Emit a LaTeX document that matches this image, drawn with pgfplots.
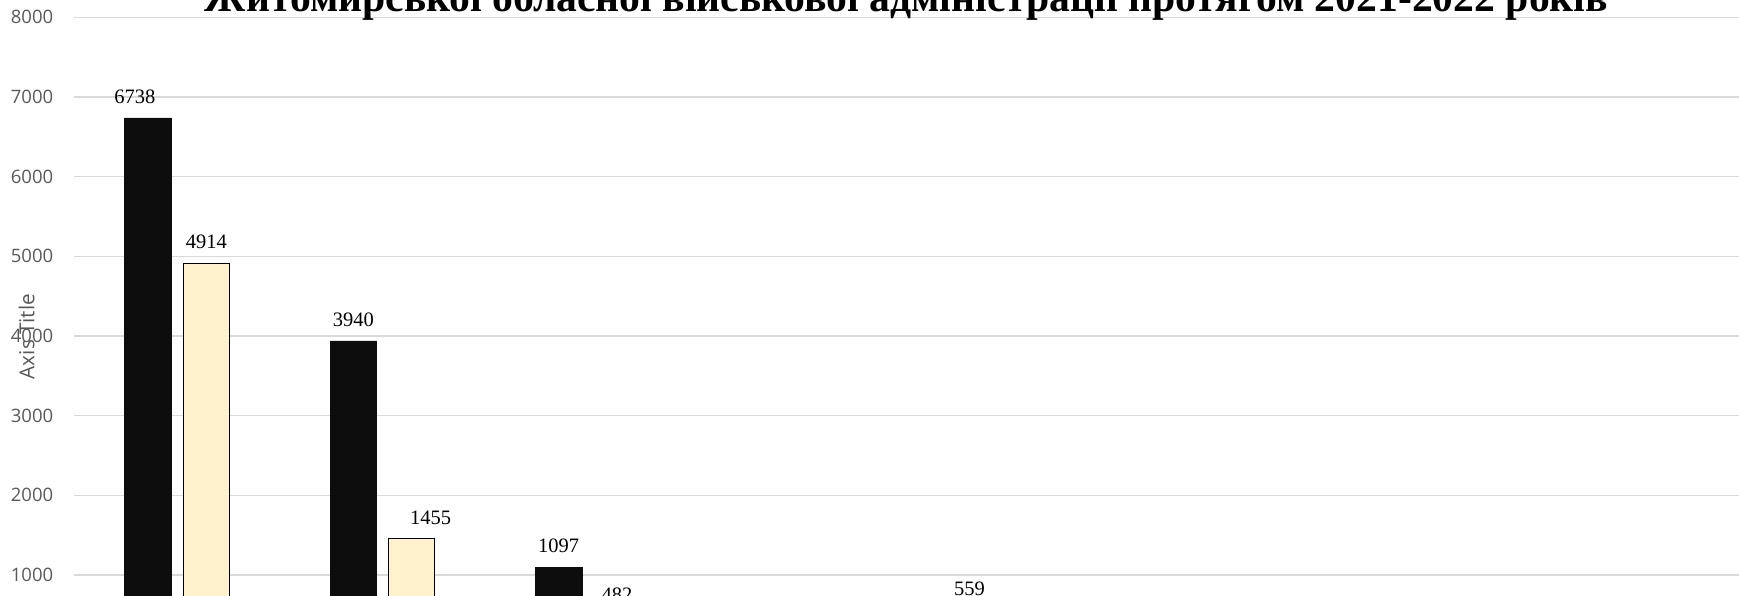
\documentclass[border=0pt]{standalone}
\usepackage{graphicx}
\usepackage{pgfplots}
\pgfplotsset{compat=1.18}
\usepackage{pgfplotstable}
\usepackage{fontspec}
\setmainfont{Liberation Serif}
\newfontfamily\sansfont{Open Sans}
\definecolor{gridgray}{HTML}{D9D9D9}
\definecolor{txtgray}{HTML}{595959}
\definecolor{barblack}{HTML}{0D0D0D}
\definecolor{baryellow}{HTML}{FFF2CC}

% series 1 (black bars): x = category index, y = value, dx = label shift
\pgfplotstableread{
x y dx
0 6738 -13
1 3940 0
2 1097 0
4 559 0
}\tblA
% series 2 (light yellow bars)
\pgfplotstableread{
x y dx
0 4914 0
1 1455 19
2 482 0
}\tblB

\begin{document}
\begin{tikzpicture}[x=1pt,y=1pt]
\path[use as bounding box] (0,0) rectangle (1739,595);
\clip (0,0) rectangle (1739,595);
\begin{axis}[
  at={(74.4pt,-59.7pt)}, anchor=south west,
  scale only axis, width=1664.6pt, height=654.7pt,
  xmin=-0.5, xmax=7.604, ymin=0, ymax=8217,
  axis line style={draw=none}, major tick length=0pt,
  xtick=\empty, ytick={1000,2000,3000,4000,5000,6000,7000,8000},
  ymajorgrids, grid style={gridgray, line width=1.3pt},
  yticklabel style={font=\sansfont\fontsize{18.5}{20}\selectfont, text=txtgray, inner sep=0pt, anchor=east},
  yticklabel shift=21pt,
  /pgf/number format/assume math mode=true,
  /pgf/number format/1000 sep={},
  ylabel={Axis Title},
  every axis y label/.style={at={(axis description cs:-0.02878,0.486)}, rotate=90, anchor=center, font=\sansfont\fontsize{20.7}{24}\selectfont, text=txtgray},
  ybar, bar width=46.5pt,
  nodes near coords,
  every node near coord/.append style={anchor=south, inner sep=0pt, yshift=14pt, xshift=\dx pt, font=\fontsize{20.5}{24}\selectfont, text=black},
]
\addplot[ybar, bar shift=-29.2pt, fill=barblack, draw=barblack,
  visualization depends on={\thisrow{dx} \as \dx}] table[x=x,y=y] {\tblA};
\addplot[ybar, bar shift=29.2pt, fill=baryellow, draw=black, line width=1pt,
  visualization depends on={\thisrow{dx} \as \dx}] table[x=x,y=y] {\tblB};
\end{axis}
\node[anchor=base, inner sep=0pt] at (906.5,583) {\resizebox{1403pt}{!}{\bfseries\fontsize{30}{36}\selectfont Житомирської обласної військової адміністрації протягом 2021-2022 років}};
\end{tikzpicture}
\end{document}
